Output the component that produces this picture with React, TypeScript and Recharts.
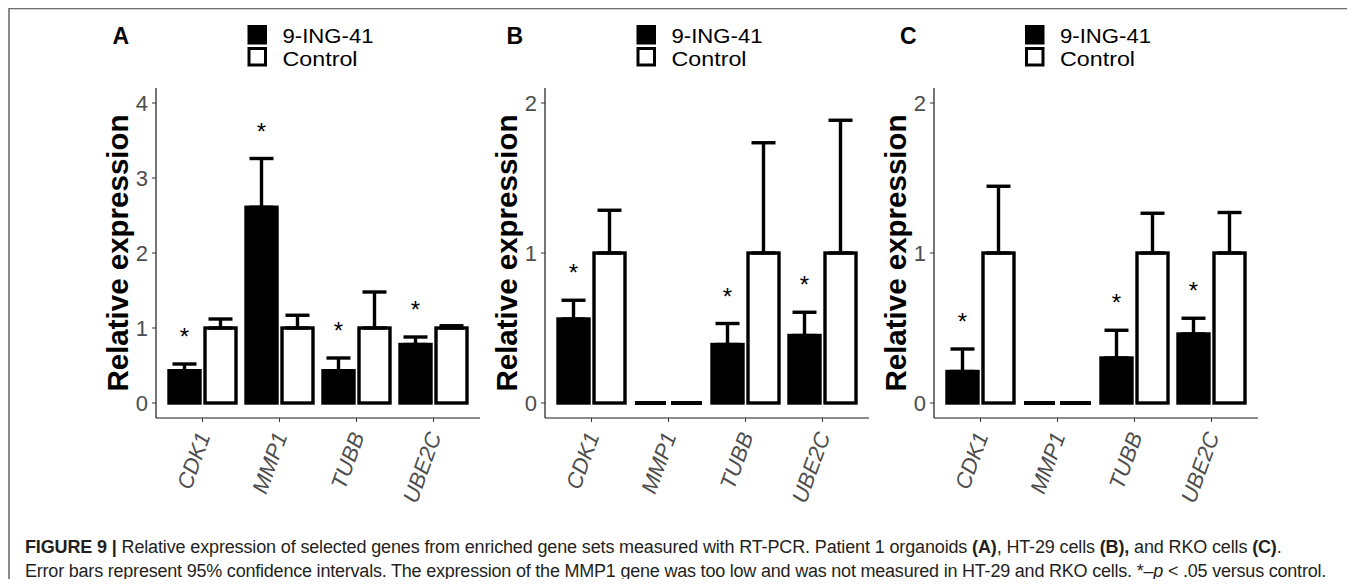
import React from "react";
import { BarChart, Bar, XAxis, YAxis, ErrorBar } from "recharts";

const FONT = '"Liberation Sans", Arial, Helvetica, sans-serif';

const genes = ["CDK1", "MMP1", "TUBB", "UBE2C"];
const seriesNames = ["9-ING-41", "Control"];
const panelLetters = ["A", "B", "C"];

// A - patient 1 organoids
const orgDrug = [0.43, 2.61, 0.43, 0.78];
const orgDrugUpper = [0.52, 3.26, 0.6, 0.88];
const orgCtrl = [1, 1, 1, 1];
const orgCtrlUpper = [1.12, 1.17, 1.48, 1.03];
const orgSig = [true, true, true, true];

// B - HT-29 cells (MMP1 not measured)
const htDrug = [0.56, 0, 0.39, 0.45];
const htDrugUpper = [0.685, 0, 0.53, 0.605];
const htCtrl = [1, 0, 1, 1];
const htCtrlUpper = [1.285, 0, 1.735, 1.885];
const htSig = [true, false, true, true];

// C - RKO cells (MMP1 not measured)
const rkoDrug = [0.21, 0, 0.3, 0.46];
const rkoDrugUpper = [0.36, 0, 0.485, 0.565];
const rkoCtrl = [1, 0, 1, 1];
const rkoCtrlUpper = [1.445, 0, 1.265, 1.27];
const rkoSig = [true, false, true, true];

const ticksA = [0, 1, 2, 3, 4];
const ticksBC = [0, 1, 2];

function buildRows(
  drug: number[],
  drugUp: number[],
  ctrl: number[],
  ctrlUp: number[],
  sig: boolean[]
) {
  return genes.map((gene, i) => ({
    gene,
    drug: drug[i],
    drugUp: drugUp[i],
    drugErr: [0, drugUp[i] - drug[i]],
    ctrl: ctrl[i],
    ctrlErr: [0, ctrlUp[i] - ctrl[i]],
    sig: sig[i],
  }));
}

const SW = 3.4;

function outline(x: number, y: number, w: number, h: number, fill: string) {
  if (!h || Math.abs(h) < 0.5) {
    // zero-height bar: ggplot still draws its border as a flat line
    return <line x1={x} x2={x + w} y1={y} y2={y} stroke="#000" strokeWidth={4} />;
  }
  return <rect x={x} y={y} width={w} height={h} fill={fill} stroke="#000" strokeWidth={SW} />;
}

const DrugShape = (p: any) => {
  const { x, y, width, height, payload } = p;
  let star = null;
  if (payload.sig && payload.drug > 0 && height > 0) {
    const k = height / payload.drug;
    const errTop = y - (payload.drugUp - payload.drug) * k;
    star = (
      <text x={x + width / 2} y={errTop - 19} textAnchor="middle" fontSize={24} fontFamily={FONT} fill="#000">
        *
      </text>
    );
  }
  return (
    <g>
      {outline(x, y, width, height, "#000")}
      {star}
    </g>
  );
};

const CtrlShape = (p: any) => outline(p.x, p.y, p.width, p.height, "#fff");

const GeneTick = (p: any) => {
  const { x, y, payload } = p;
  return (
    <text
      transform={`translate(${x + 1},${y + 9}) rotate(-70)`}
      textAnchor="end"
      dy="0.35em"
      fontSize={22}
      fontStyle="italic"
      fontFamily={FONT}
      fill="#4D4D4D"
    >
      {payload.value}
    </text>
  );
};

const YTitle = (p: any) => {
  const vb = p.viewBox || {};
  const cx = vb.x + 28;
  const cy = vb.y + vb.height / 2;
  return (
    <text
      transform={`translate(${cx},${cy}) rotate(-90)`}
      textAnchor="middle"
      fontSize={29.5}
      fontWeight="bold"
      fontFamily={FONT}
      fill="#000"
    >
      Relative expression
    </text>
  );
};

interface PanelProps {
  left: number;
  rows: ReturnType<typeof buildRows>;
  domain: [number, number];
  ticks: number[];
}

function Panel({ left, rows, domain, ticks }: PanelProps) {
  return (
    <div style={{ position: "absolute", left, top: 0 }}>
      <BarChart
        width={392}
        height={520}
        data={rows}
        margin={{ top: 88, right: 12, bottom: 0, left: 0 }}
        barSize={31}
        barGap={5}
      >
        <XAxis
          dataKey="gene"
          interval={0}
          height={102}
          padding={{ left: 8, right: 8 }}
          tickSize={4}
          tickMargin={2}
          axisLine={{ stroke: "#1a1a1a", strokeWidth: 1.2 }}
          tickLine={{ stroke: "#333" }}
          tick={<GeneTick />}
        />
        <YAxis
          type="number"
          width={56}
          domain={domain}
          ticks={ticks}
          allowDataOverflow
          tickSize={4}
          tickMargin={4}
          axisLine={{ stroke: "#1a1a1a", strokeWidth: 1.2 }}
          tickLine={{ stroke: "#333" }}
          tick={{ fill: "#4D4D4D", fontSize: 22, fontFamily: FONT }}
          label={<YTitle />}
        />
        <Bar dataKey="drug" name={seriesNames[0]} fill="#000" shape={DrugShape} isAnimationActive={false}>
          <ErrorBar dataKey="drugErr" width={12} strokeWidth={SW} stroke="#000" direction="y" isAnimationActive={false} />
        </Bar>
        <Bar dataKey="ctrl" name={seriesNames[1]} fill="#fff" shape={CtrlShape} isAnimationActive={false}>
          <ErrorBar dataKey="ctrlErr" width={12} strokeWidth={SW} stroke="#000" direction="y" isAnimationActive={false} />
        </Bar>
      </BarChart>
    </div>
  );
}

function LegendKey({ x }: { x: number }) {
  return (
    <g fontFamily={FONT} fontSize={20.5} fill="#000">
      <rect x={x + 1.5} y={26.5} width={16.5} height={16.5} fill="#000" stroke="#000" strokeWidth={3} />
      <rect x={x + 1.5} y={48.5} width={16.5} height={16.5} fill="#fff" stroke="#000" strokeWidth={3} />
      <text x={x + 35} y={43} textLength={91} lengthAdjust="spacingAndGlyphs">{seriesNames[0]}</text>
      <text x={x + 35} y={66} textLength={75} lengthAdjust="spacingAndGlyphs">{seriesNames[1]}</text>
    </g>
  );
}

export default function App() {
  const rowsA = buildRows(orgDrug, orgDrugUpper, orgCtrl, orgCtrlUpper, orgSig);
  const rowsB = buildRows(htDrug, htDrugUpper, htCtrl, htCtrlUpper, htSig);
  const rowsC = buildRows(rkoDrug, rkoDrugUpper, rkoCtrl, rkoCtrlUpper, rkoSig);

  const b = { fontWeight: "bold" as const };

  return (
    <div style={{ position: "relative", width: 1355, height: 587, margin: -8, background: "#fff", overflow: "hidden" }}>
      <Panel left={100} rows={rowsA} domain={[-0.2, 4.2]} ticks={ticksA} />
      <Panel left={489} rows={rowsB} domain={[-0.1, 2.1]} ticks={ticksBC} />
      <Panel left={878} rows={rowsC} domain={[-0.1, 2.1]} ticks={ticksBC} />
      <svg
        width={1355}
        height={587}
        style={{ position: "absolute", left: 0, top: 0, pointerEvents: "none" }}
        fontFamily={FONT}
      >
        <rect x={9} y={8.5} width={1345} height={620} fill="none" stroke="#6e6e6e" strokeWidth={1.6} />
        <g fontSize={23} fontWeight="bold" fill="#000">
          <text x={112.5} y={43.5}>{panelLetters[0]}</text>
          <text x={506.5} y={43.5}>{panelLetters[1]}</text>
          <text x={900} y={43.5}>{panelLetters[2]}</text>
        </g>
        <LegendKey x={247.5} />
        <LegendKey x={636.5} />
        <LegendKey x={1025} />
      </svg>
      <div
        style={{
          position: "absolute",
          left: 25,
          top: 535,
          fontFamily: FONT,
          fontSize: 18,
          lineHeight: "24px",
          color: "#231F20",
          whiteSpace: "nowrap",
        }}
      >
        <div style={{ letterSpacing: "-0.14px" }}>
          <span style={b}>FIGURE 9 |</span> Relative expression of selected genes from enriched gene sets measured with
          RT-PCR. Patient 1 organoids <span style={b}>(A)</span>, HT-29 cells <span style={b}>(B),</span> and RKO cells{" "}
          <span style={b}>(C)</span>.
        </div>
        <div style={{ letterSpacing: "-0.21px" }}>
          Error bars represent 95% confidence intervals. The expression of the MMP1 gene was too low and was not
          measured in HT-29 and RKO cells. *–<i>p</i> {"<"} .05 versus control.
        </div>
      </div>
    </div>
  );
}
